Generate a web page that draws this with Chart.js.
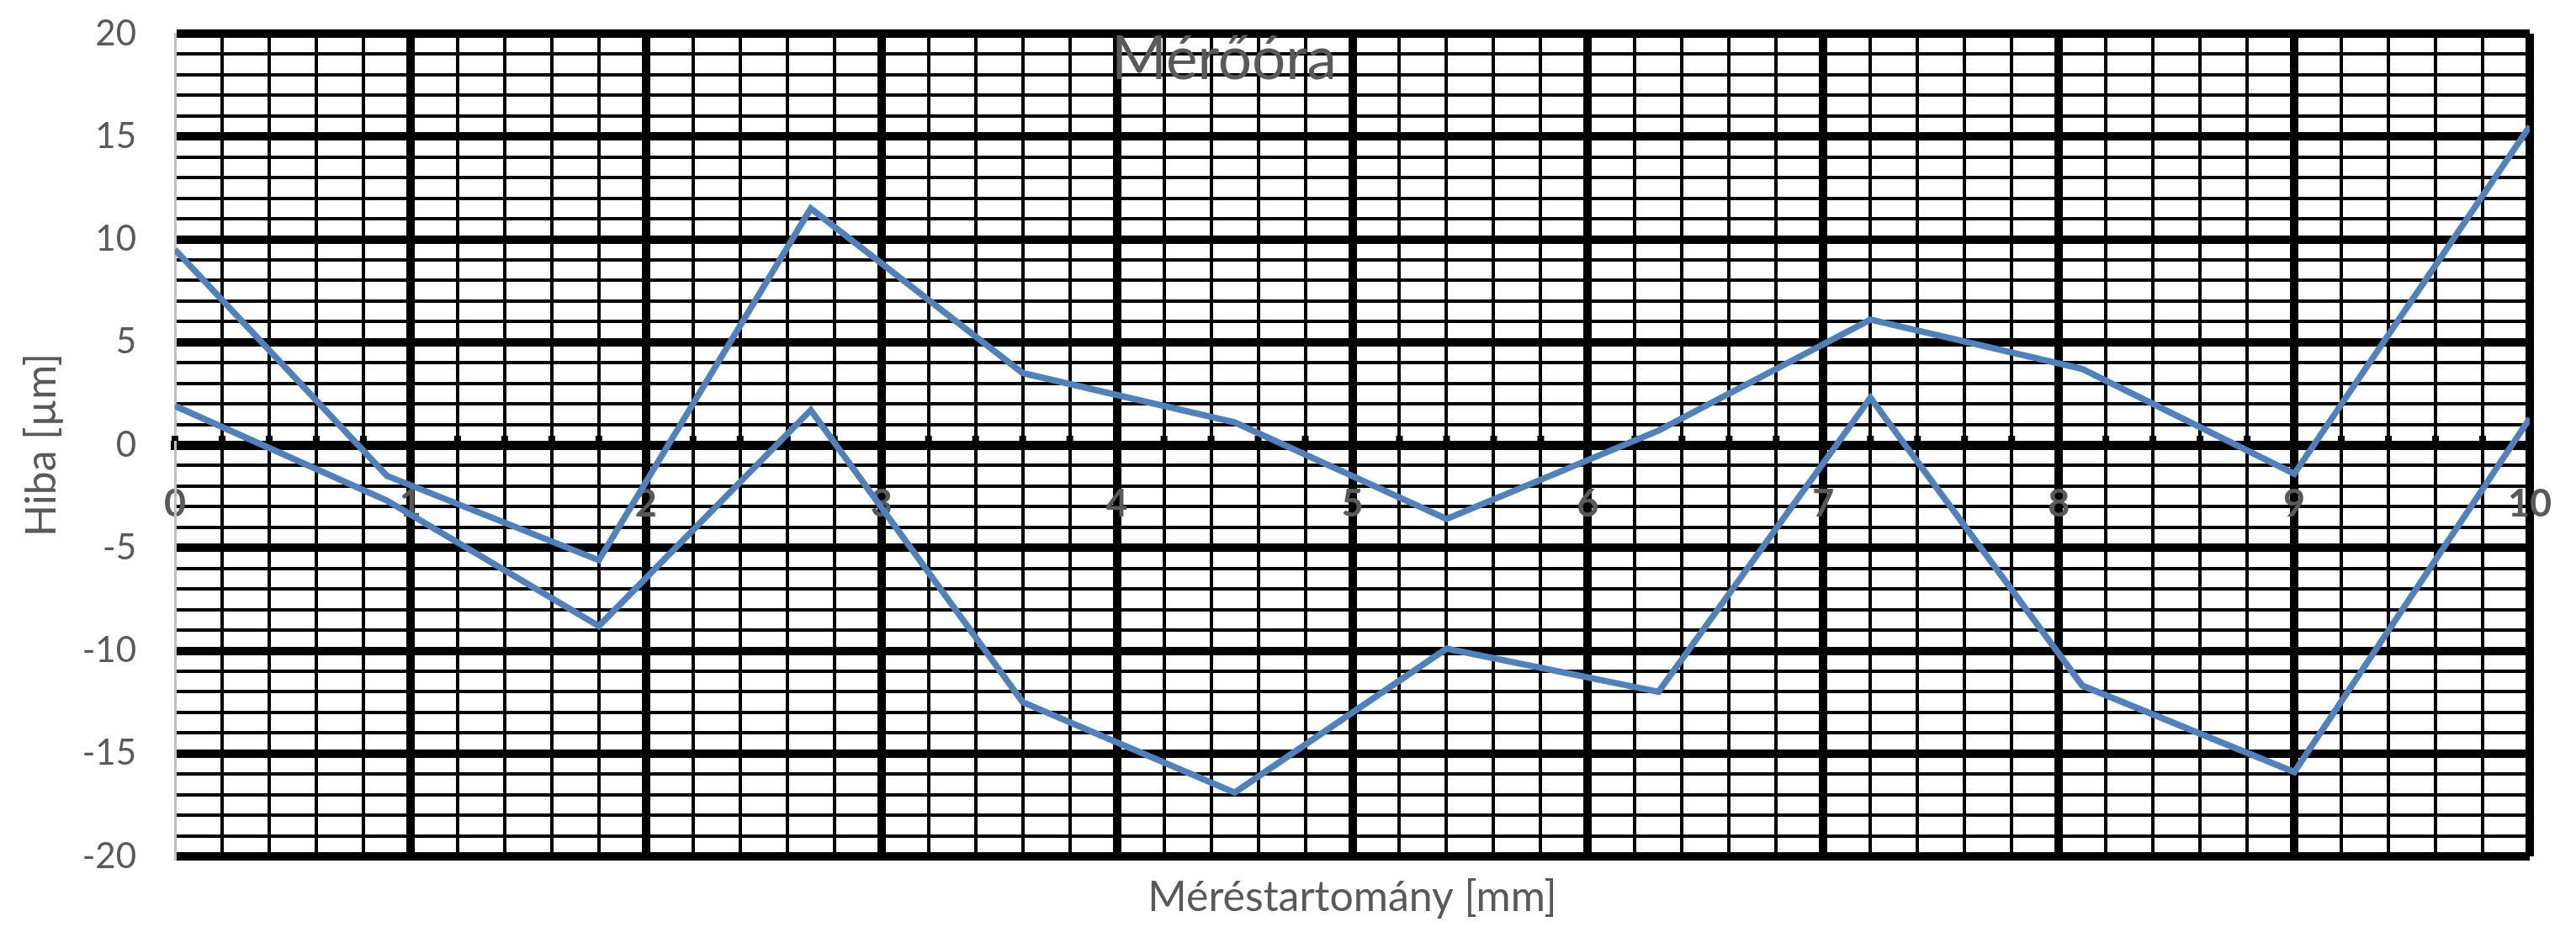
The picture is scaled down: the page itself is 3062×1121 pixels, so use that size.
<!DOCTYPE html>
<html lang="hu">
<head>
<meta charset="utf-8">
<title>Mérőóra</title>
<script src="https://cdn.jsdelivr.net/npm/chart.js@4.4.1/dist/chart.umd.min.js"></script>
<style>
  html, body { margin: 0; padding: 0; background: #fff; }
  #wrap { width: 3062px; height: 1121px; position: relative; }
</style>
</head>
<body>
<div id="wrap"><canvas id="meroChart"></canvas></div>
<script>
// mérési helyek [mm] és a két hibagörbe [µm]
const positions = [0, 0.9, 1.8, 2.7, 3.6, 4.5, 5.4, 6.3, 7.2, 8.1, 9, 10];
const upperErrors = [9.5, -1.5, -5.6, 11.5, 3.5, 1.1, -3.6, 0.7, 6.1, 3.7, -1.4, 15.5];
const lowerErrors = [1.9, -2.7, -8.8, 1.7, -12.5, -16.9, -9.9, -12.0, 2.3, -11.7, -15.9, 1.3];

// feliratozott osztások
const xTickLabels = [0, 1, 2, 3, 4, 5, 6, 7, 8, 9, 10];
const yTickLabels = [-20, -15, -10, -5, 0, 5, 10, 15, 20];

const chartTitle = 'Mérőóra';
const xTitle = 'Méréstartomány [mm]';
const yTitle = 'Hiba [µm]';

const textColor = '#595959';
const lineColor = '#4F81BD';

Chart.defaults.font.family = 'Lato';

function isLabelled(v, list) {
    return list.some(t => Math.abs(t - v) < 1e-6);
}

function toPoints(xs, ys) {
    return xs.map((x, i) => ({x: x, y: ys[i]}));
}

// Excel-szerű cím, a rács fölé rajzolva
const titlePlugin = {
    id: 'meroTitle',
    afterDraw(chart) {
        const ctx = chart.ctx;
        ctx.save();
        ctx.font = '71px Lato';
        ctx.fillStyle = textColor;
        ctx.textAlign = 'center';
        ctx.textBaseline = 'alphabetic';
        ctx.fillText(chartTitle, 1455, 94);
        ctx.restore();
    }
};

// apró osztásjelek a nulla tengely felett
const minorTicks = {
    id: 'minorTicks',
    beforeDatasetsDraw(chart) {
        const ctx = chart.ctx;
        const xs = chart.scales.x;
        const y0 = chart.scales.y.getPixelForValue(0);
        ctx.save();
        ctx.fillStyle = '#000';
        xs.ticks.forEach(t => {
            const px = xs.getPixelForValue(t.value);
            ctx.fillRect(px - 4, y0 - 11, 8, 6);
        });
        ctx.restore();
    }
};

let meroChart;

function createChart() {
    const ctx = document.getElementById('meroChart').getContext('2d');

    meroChart = new Chart(ctx, {
        type: 'line',
        data: {
            datasets: [{
                label: 'Adatsor1',
                data: toPoints(positions, upperErrors),
                borderColor: lineColor,
                borderWidth: 7.5,
                pointRadius: 0,
                tension: 0,
                borderJoinStyle: 'miter'
            }, {
                label: 'Adatsor2',
                data: toPoints(positions, lowerErrors),
                borderColor: lineColor,
                borderWidth: 7.5,
                pointRadius: 0,
                tension: 0,
                borderJoinStyle: 'miter'
            }]
        },
        options: {
            responsive: true,
            maintainAspectRatio: false,
            animation: false,
            layout: {padding: {top: 40, right: 55, left: 0, bottom: 0}},
            plugins: {
                legend: {display: false},
                tooltip: {enabled: false}
            },
            scales: {
                x: {
                    type: 'linear',
                    position: {y: 0},
                    min: 0,
                    max: 10,
                    ticks: {
                        stepSize: 0.2,
                        autoSkip: false,
                        maxRotation: 0,
                        padding: 0,
                        color: textColor,
                        font: {size: 45, weight: 'bold'},
                        callback: v => isLabelled(v, xTickLabels) ? String(Math.round(v)) : ''
                    },
                    grid: {
                        drawTicks: true,
                        tickLength: 43,
                        tickColor: 'rgba(0,0,0,0)',
                        lineWidth: c => (c.tick && isLabelled(c.tick.value, xTickLabels)) ? 10 : 4,
                        color: c => (c.tick && Math.abs(c.tick.value) < 1e-6) ? 'rgba(0,0,0,0)' : '#000'
                    },
                    border: {display: true, color: '#000', width: 11}
                },
                x2: {
                    type: 'linear',
                    position: 'bottom',
                    min: 0,
                    max: 10,
                    ticks: {display: false},
                    grid: {display: false},
                    border: {display: false},
                    title: {
                        display: true,
                        text: xTitle,
                        color: textColor,
                        font: {size: 50},
                        padding: {top: 0, bottom: 24}
                    },
                    afterFit: scale => { scale.height = 103; }
                },
                y: {
                    type: 'linear',
                    position: 'left',
                    min: -20,
                    max: 20,
                    ticks: {
                        stepSize: 1,
                        autoSkip: false,
                        padding: 0,
                        color: textColor,
                        font: {size: 42},
                        callback: v => isLabelled(v, yTickLabels) ? String(v) : ''
                    },
                    grid: {
                        drawTicks: true,
                        tickLength: 46,
                        tickColor: 'rgba(0,0,0,0)',
                        lineWidth: c => (c.tick && isLabelled(c.tick.value, yTickLabels)) ? 10 : 4,
                        color: '#000'
                    },
                    border: {display: true, color: '#BFBFBF', width: 3},
                    title: {
                        display: true,
                        text: yTitle,
                        color: textColor,
                        font: {size: 50},
                        padding: {top: 20, bottom: 0}
                    },
                    afterFit: scale => { scale.width = 208; }
                }
            }
        },
        plugins: [minorTicks, titlePlugin]
    });
}

if (document.fonts && document.fonts.load) {
    Promise.all([
        document.fonts.load('42px Lato'),
        document.fonts.load('bold 45px Lato')
    ]).then(createChart, createChart);
} else {
    createChart();
}
</script>
</body>
</html>
